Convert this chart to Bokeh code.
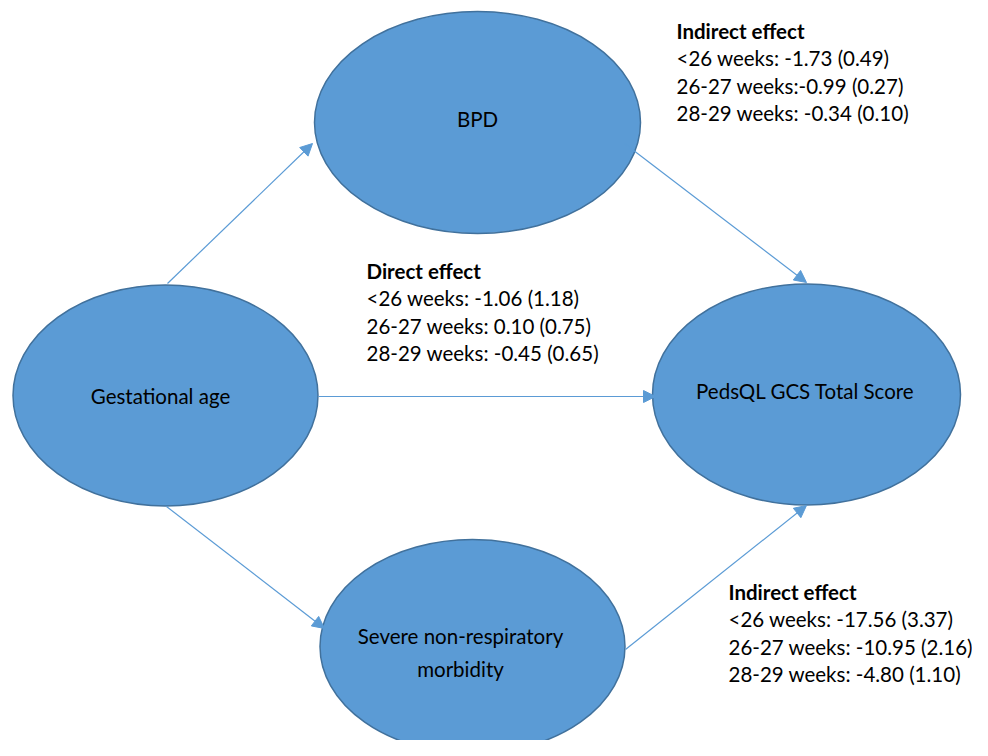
from bokeh.plotting import figure
from bokeh.models import Range1d, Arrow, NormalHead
from bokeh.core.properties import value
from bokeh.embed import file_html
from bokeh.resources import INLINE

# Nodes (labels)
node_names = ["BPD", "Gestational age", "PedsQL GCS Total Score", "Severe non-respiratory\nmorbidity"]

# Effect texts
bpd_title = "Indirect effect"
bpd_lines = ["<26 weeks: -1.73 (0.49)", "26-27 weeks:-0.99 (0.27)", "28-29 weeks: -0.34 (0.10)"]
direct_title = "Direct effect"
direct_lines = ["<26 weeks:  -1.06 (1.18)", "26-27 weeks: 0.10 (0.75)", "28-29 weeks: -0.45 (0.65)"]
sev_title = "Indirect effect"
sev_lines = ["<26 weeks:  -17.56 (3.37)", "26-27 weeks: -10.95 (2.16)", "28-29 weeks: -4.80 (1.10)"]

# Layout (pixel-like coordinates, y downward)
node_x = [477, 165, 806, 472]
node_y = [122, 395, 394, 646]
node_w = [326, 305, 308, 305]
node_h = [222, 221, 221, 214]
label_x = [477, 160, 805, 460]
label_y = [118, 395, 390, 652]

FILL = "#5B9BD5"
EDGE = "#41719C"
FONT = "Lato"
FS = "20.5px"

p = figure(width=972, height=740, output_backend="svg", toolbar_location=None,
           x_range=Range1d(0, 972), y_range=Range1d(740, 0), min_border=0)
p.axis.visible = False
p.grid.visible = False
p.outline_line_color = None
p.background_fill_color = "white"

p.ellipse(x=node_x, y=node_y, width=node_w, height=node_h, fill_color=FILL,
          line_color=EDGE, line_width=1.5)

p.text(x=label_x, y=label_y, text=node_names, text_align="center", text_baseline="middle",
       text_font=value(FONT), text_font_size=FS, text_color="black", text_line_height=1.37)

# Arrows
arrows = [
    (167, 283, 312, 143),
    (624, 143, 806, 282),
    (318, 396, 655, 396),
    (166, 506, 324, 628),
    (625, 649, 806, 505),
]
for x0, y0, x1, y1 in arrows:
    p.add_layout(Arrow(x_start=x0, y_start=y0, x_end=x1, y_end=y1, line_color=FILL, line_width=1.2,
                       end=NormalHead(size=12, fill_color=FILL, line_color=FILL)))

def block(x, y0, title, lines):
    p.text(x=[x], y=[y0], text=[title], text_font=value(FONT), text_font_size=FS,
           text_font_style="bold", text_baseline="middle", text_color="black")
    p.text(x=[x] * len(lines), y=[y0 + 27.5 * (i + 1) for i in range(len(lines))], text=lines,
           text_font=value(FONT), text_font_size=FS, text_baseline="middle", text_color="black")

block(676, 30, bpd_title, bpd_lines)
block(366, 270, direct_title, direct_lines)
block(728, 591, sev_title, sev_lines)

open("out.html", "w").write(file_html(p, INLINE))
